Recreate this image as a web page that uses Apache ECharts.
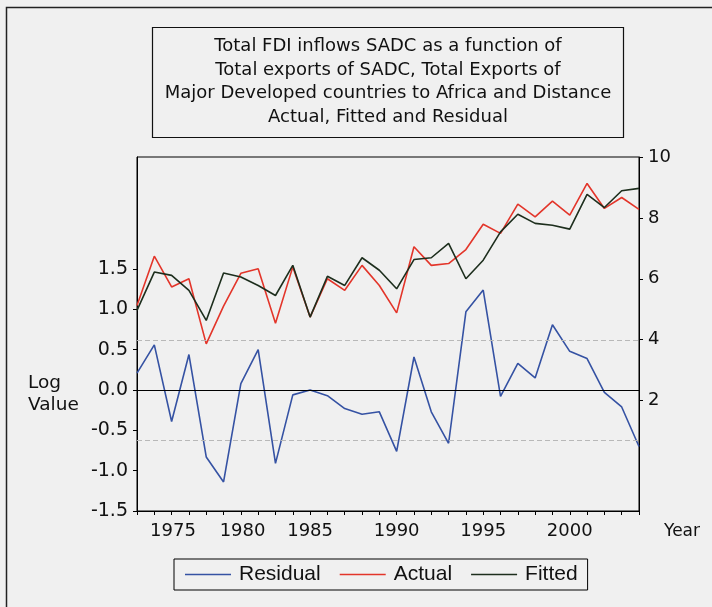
<!DOCTYPE html>
<html>
<head>
<meta charset="utf-8">
<script src="https://cdn.jsdelivr.net/npm/echarts@6/dist/echarts.min.js"></script>
<style>
  html, body { margin: 0; padding: 0; background: #f0f0f0; }
  #chart { width: 712px; height: 607px; }
</style>
</head>
<body>
<div id="chart"></div>
<script>
// observations (annual)
const years = ['1975', '1976', '1977', '1978', '1979', '1980', '1981', '1982', '1983', '1984',
  '1985', '1986', '1987', '1988', '1989', '1990', '1991', '1992', '1993', '1994',
  '1995', '1996', '1997', '1998', '1999', '2000', '2001', '2002', '2003', '2004'];

// left axis
const residual = [0.21, 0.56, -0.39, 0.44, -0.83, -1.14, 0.08, 0.50, -0.91, -0.06,
  0.00, -0.07, -0.23, -0.30, -0.27, -0.76, 0.41, -0.27, -0.66, 0.97,
  1.24, -0.08, 0.33, 0.15, 0.81, 0.48, 0.39, -0.03, -0.21, -0.70];

// right axis
const actual = [5.12, 6.74, 5.73, 6.00, 3.86, 5.10, 6.18, 6.33, 4.54, 6.39,
  4.74, 6.00, 5.62, 6.44, 5.78, 4.88, 7.05, 6.44, 6.50, 6.96,
  7.79, 7.49, 8.45, 8.03, 8.55, 8.09, 9.13, 8.31, 8.67, 8.28];
const fitted = [4.96, 6.22, 6.11, 5.62, 4.63, 6.19, 6.06, 5.78, 5.45, 6.44,
  4.74, 6.08, 5.78, 6.69, 6.28, 5.67, 6.63, 6.69, 7.16, 6.00,
  6.61, 7.54, 8.12, 7.82, 7.76, 7.63, 8.77, 8.34, 8.89, 8.97];

const leftTicks = [-1.5, -1.0, -0.5, 0.0, 0.5, 1.0, 1.5];
const rightTicks = [2, 4, 6, 8, 10];
const residualSE = 0.62;

const titleLines = [
  'Total FDI inflows SADC as a function of',
  'Total exports of SADC, Total Exports of',
  'Major Developed countries to Africa and Distance',
  'Actual, Fitted and Residual'
];

const FONT = 'DejaVu Sans';
const LEGEND_FONT = 'Liberation Sans';
const chart = echarts.init(document.getElementById('chart'));

const option = {
  backgroundColor: '#f0f0f0',
  animation: false,
  textStyle: { fontFamily: FONT, color: '#111' },
  grid: {
    left: 137, right: 73, top: 157, bottom: 96,
    show: true, borderColor: '#000', borderWidth: 1,
    backgroundColor: 'transparent'
  },
  legend: {
    data: ['Residual', 'Actual', 'Fitted'],
    left: 174, top: 559,
    padding: [5, 10, 5, 11],
    icon: 'rect',
    itemWidth: 46, itemHeight: 1.5, itemGap: 19,
    borderColor: '#000', borderWidth: 1,
    textStyle: { fontFamily: LEGEND_FONT, fontSize: 21, color: '#111', padding: [0, 0, 0, 3] }
  },
  xAxis: {
    type: 'category',
    data: years,
    boundaryGap: false,
    name: 'Year',
    nameLocation: 'end',
    nameGap: 25,
    nameTextStyle: { fontFamily: FONT, fontSize: 17, color: '#111', verticalAlign: 'top', padding: [12, 0, 0, 0] },
    axisLine: { onZero: false, lineStyle: { color: '#000', width: 1 } },
    axisTick: { show: true, interval: 0, length: 4, lineStyle: { color: '#000' } },
    axisLabel: {
      interval: function (idx, val) { return Number(val) % 5 === 0; },
      margin: 11,
      fontSize: 18,
      color: '#111',
      formatter: function (val) {
        if (val === '1975') return '{a|' + val + '}';
        if (val === '1980') return '{b|' + val + '}';
        return val;
      },
      rich: {
        a: { fontFamily: FONT, fontSize: 18, color: '#111', padding: [0, 0, 0, 72] },
        b: { fontFamily: FONT, fontSize: 18, color: '#111', padding: [0, 0, 0, 38] }
      }
    },
    splitLine: { show: false }
  },
  yAxis: [
    {
      type: 'value',
      min: -1.5, max: 2.89,
      position: 'left',
      axisLine: { show: true, lineStyle: { color: '#000', width: 1 } },
      axisTick: { show: true, length: 4, customValues: leftTicks, lineStyle: { color: '#000' } },
      axisLabel: {
        customValues: leftTicks,
        margin: 9,
        fontSize: 19,
        color: '#111',
        formatter: function (v) { return v.toFixed(1); }
      },
      splitLine: { show: false }
    },
    {
      type: 'value',
      min: -1.63, max: 10,
      position: 'right',
      axisLine: { show: true, lineStyle: { color: '#000', width: 1 } },
      axisTick: { show: true, length: 4, customValues: rightTicks, lineStyle: { color: '#000' } },
      axisLabel: {
        customValues: rightTicks,
        margin: 9,
        fontSize: 18,
        color: '#111'
      },
      splitLine: { show: false }
    }
  ],
  series: [
    {
      name: 'Residual',
      type: 'line',
      yAxisIndex: 0,
      data: residual,
      symbol: 'none',
      lineStyle: { color: '#3552a3', width: 1.6 },
      itemStyle: { color: '#3552a3' },
      markLine: {
        silent: true,
        symbol: 'none',
        label: { show: false },
        data: [
          { yAxis: 0, lineStyle: { color: '#000', type: 'solid', width: 1 } },
          { yAxis: residualSE, lineStyle: { color: '#b8b8b8', type: [5, 3], width: 1 } },
          { yAxis: -residualSE, lineStyle: { color: '#b8b8b8', type: [5, 3], width: 1 } }
        ]
      },
      z: 2
    },
    {
      name: 'Actual',
      type: 'line',
      yAxisIndex: 1,
      data: actual,
      symbol: 'none',
      lineStyle: { color: '#e3352a', width: 1.6 },
      itemStyle: { color: '#e3352a' },
      z: 3
    },
    {
      name: 'Fitted',
      type: 'line',
      yAxisIndex: 1,
      data: fitted,
      symbol: 'none',
      lineStyle: { color: '#1d2e1d', width: 1.6 },
      itemStyle: { color: '#1d2e1d' },
      z: 4
    }
  ],
  graphic: [
    {
      type: 'rect',
      shape: { x: 6.5, y: 7.5, width: 730, height: 640 },
      style: { fill: 'none', stroke: '#222', lineWidth: 1.5 },
      silent: true
    },
    {
      type: 'rect',
      shape: { x: 152.5, y: 27.5, width: 471, height: 110 },
      style: { fill: 'none', stroke: '#111', lineWidth: 1.2 },
      silent: true
    },
    {
      type: 'text',
      x: 388, y: 82,
      style: {
        text: titleLines.join('\n'),
        fontFamily: FONT, fontSize: 18, lineHeight: 23.5,
        fill: '#111', align: 'center', verticalAlign: 'middle'
      },
      silent: true
    },
    {
      type: 'text',
      x: 28, y: 394,
      style: {
        text: 'Log\nValue',
        fontFamily: FONT, fontSize: 18.5, lineHeight: 22,
        fill: '#111', align: 'left', verticalAlign: 'middle'
      },
      silent: true
    }
  ]
};

chart.setOption(option);
</script>
</body>
</html>
